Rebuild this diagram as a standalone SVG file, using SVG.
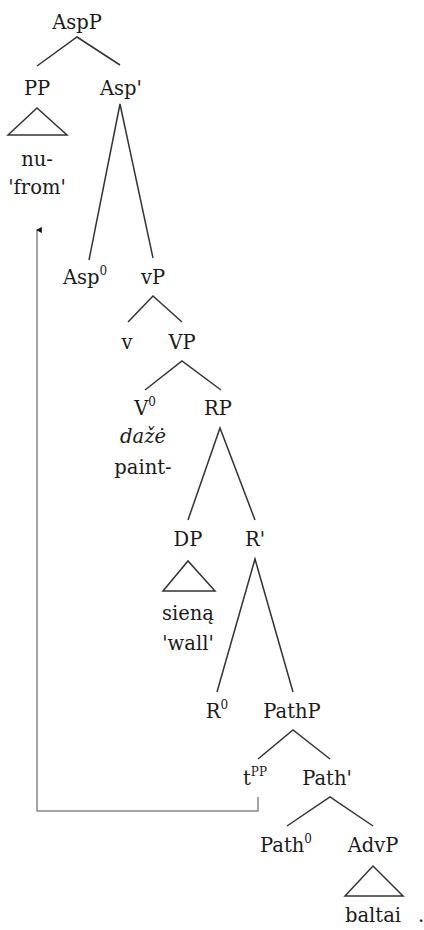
<svg xmlns="http://www.w3.org/2000/svg" width="424" height="930" viewBox="0 0 424 930">
  <style>
    text { font-family: "DejaVu Serif", "Liberation Serif", serif; font-size: 19.5px; fill: #1a1a1a; text-anchor: middle; }
    .it { font-style: italic; }
    .sup { font-size: 12px; }
    .edge { stroke: #333; stroke-width: 1.5; fill: none; }
    .move { stroke: #888; stroke-width: 1.5; fill: none; }
  </style>
  <defs>
    <marker id="head" viewBox="0 0 10 10" refX="5" refY="2" markerWidth="6" markerHeight="6" orient="auto-start-reverse" markerUnits="userSpaceOnUse">
      <path d="M0,10 L5,0 L10,10 Z" fill="#111"/>
    </marker>
  </defs>
  <rect width="424" height="930" fill="#fff"/>

  <!-- tree branches -->
  <g id="connectors">
    <path class="edge" d="M37,66 L77,37 L120,65"/>
    <path class="edge" d="M8,135 L37,108 L67,135 Z"/>
    <path class="edge" d="M89,260 L120,104 L153,258"/>
    <path class="edge" d="M128,322 L153,296 L182,322"/>
    <path class="edge" d="M145,390 L182,361 L221,390"/>
    <path class="edge" d="M188,520 L220,428 L255,520"/>
    <path class="edge" d="M163,591 L188,561 L215,591 Z"/>
    <path class="edge" d="M217,692 L255,559 L293,692"/>
    <path class="edge" d="M258,759 L293,730 L330,759"/>
    <path class="edge" d="M287,826 L330,797 L373,826"/>
    <path class="edge" d="M345,896 L373,866 L403,896 Z"/>
    <!-- movement arrow from the trace up to PP -->
    <path class="move" d="M258,797 L258,811 L37,811 L37,230" marker-end="url(#head)"/>
  </g>

  <g id="AspP"><text x="77" y="29">AspP</text></g>
  <g id="PP"><text x="37" y="95">PP</text></g>
  <g id="AspBar"><text x="121" y="95">Asp'</text></g>
  <g id="nu"><text x="37" y="166">nu-</text><text x="37" y="194">'from'</text></g>
  <g id="Asp0"><text x="85" y="284">Asp<tspan class="sup" dy="-9">0</tspan></text></g>
  <g id="vP"><text x="153" y="284">vP</text></g>
  <g id="v"><text x="127" y="349">v</text></g>
  <g id="VP"><text x="182" y="349">VP</text></g>
  <g id="V0"><text x="145" y="415">V<tspan class="sup" dy="-9">0</tspan></text></g>
  <g id="daze"><text class="it" x="143" y="443">dažė</text><text x="143" y="474">paint-</text></g>
  <g id="RP"><text x="218" y="415">RP</text></g>
  <g id="DP"><text x="188" y="546">DP</text></g>
  <g id="RBar"><text x="255" y="546">R'</text></g>
  <g id="siena"><text x="188" y="620">sieną</text><text x="188" y="650">'wall'</text></g>
  <g id="R0"><text x="217" y="718">R<tspan class="sup" dy="-9">0</tspan></text></g>
  <g id="PathP"><text x="292" y="718">PathP</text></g>
  <g id="tPP"><text x="255" y="785">t<tspan class="sup" dy="-9">PP</tspan></text></g>
  <g id="PathBar"><text x="327" y="785">Path'</text></g>
  <g id="Path0"><text x="286" y="852">Path<tspan class="sup" dy="-9">0</tspan></text></g>
  <g id="AdvP"><text x="373" y="852">AdvP</text></g>
  <g id="baltai"><text x="373" y="922">baltai</text></g>
  <text x="421" y="922">.</text>
</svg>
